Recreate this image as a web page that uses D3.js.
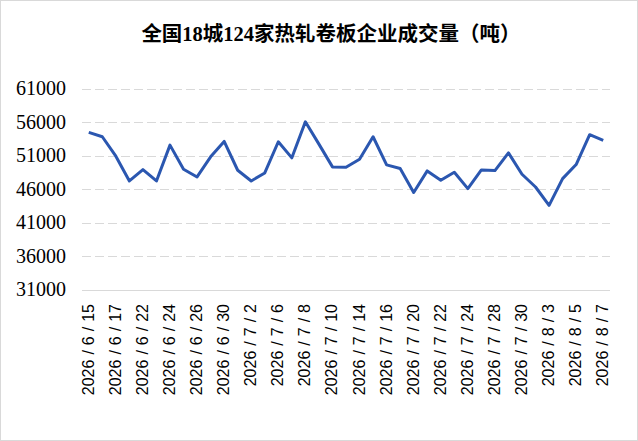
<!DOCTYPE html>
<html>
<head>
<meta charset="utf-8">
<script src="https://cdn.jsdelivr.net/npm/d3@7"></script>
<style>
  body { margin: 0; background: #fff; }
  svg { display: block; }
</style>
</head>
<body>
<script>
const title = '全国18城124家热轧卷板企业成交量（吨）';

const dates = [
  '2026/6/15', '2026/6/16', '2026/6/17', '2026/6/18', '2026/6/22', '2026/6/23', '2026/6/24',
  '2026/6/25', '2026/6/26', '2026/6/29', '2026/6/30', '2026/7/1', '2026/7/2', '2026/7/3',
  '2026/7/6', '2026/7/7', '2026/7/8', '2026/7/9', '2026/7/10', '2026/7/13', '2026/7/14',
  '2026/7/15', '2026/7/16', '2026/7/17', '2026/7/20', '2026/7/21', '2026/7/22', '2026/7/23',
  '2026/7/24', '2026/7/27', '2026/7/28', '2026/7/29', '2026/7/30', '2026/7/31', '2026/8/3',
  '2026/8/4', '2026/8/5', '2026/8/6', '2026/8/7'
];

const volumes = [
  54450, 53800, 50900, 47200, 48900, 47200, 52550,
  48950, 47800, 50800, 53100, 48800, 47200, 48400,
  53050, 50650, 56030, 52700, 49300, 49250, 50450,
  53800, 49600, 49050, 45470, 48700, 47300, 48500,
  46050, 48850, 48750, 51400, 48200, 46300, 43550,
  47550, 49650, 54100, 53250
];

const yTicks = [31000, 36000, 41000, 46000, 51000, 56000, 61000];

const width = 638;
const height = 441;
const margin = { top: 88, right: 28, bottom: 152, left: 82 };

const svg = d3.select('body').append('svg')
  .attr('width', width)
  .attr('height', height);

svg.append('rect')
  .attr('x', 0.5).attr('y', 0.5)
  .attr('width', width - 1).attr('height', height - 1)
  .attr('fill', '#fff')
  .attr('stroke', '#d9d9d9');

const x = d3.scaleBand()
  .domain(dates)
  .range([margin.left, width - margin.right]);

const y = d3.scaleLinear()
  .domain([31000, 61000])
  .range([height - margin.bottom + 0.5, margin.top + 0.5]);

// gridlines
svg.append('g')
  .selectAll('line')
  .data(yTicks)
  .join('line')
  .attr('x1', margin.left)
  .attr('x2', width - margin.right)
  .attr('y1', d => Math.round(y(d)) + 0.5)
  .attr('y2', d => Math.round(y(d)) + 0.5)
  .attr('stroke', '#d9d9d9')
  .attr('stroke-width', 1)
  .attr('stroke-dasharray', d => d === 31000 ? null : '9,4');

// y axis labels
const yAxis = d3.axisLeft(y)
  .tickValues(yTicks)
  .tickFormat(d3.format('d'))
  .tickSize(0)
  .tickPadding(16);
svg.append('g')
  .attr('transform', `translate(${margin.left},0)`)
  .call(yAxis)
  .call(g => g.select('.domain').remove())
  .selectAll('text')
  .attr('font-family', '"Liberation Serif", "Times New Roman", serif')
  .attr('font-size', 20)
  .attr('fill', '#000');

// x axis labels
const xAxis = d3.axisBottom(x)
  .tickValues(dates.filter((d, i) => i % 2 === 0))
  .tickSize(0);
const xg = svg.append('g')
  .attr('transform', `translate(0,${height - margin.bottom})`)
  .call(xAxis);
xg.select('.domain').remove();
xg.selectAll('.tick text')
  .attr('font-family', '"Liberation Sans", Arial, sans-serif')
  .attr('font-size', 16)
  .attr('fill', '#000')
  .attr('transform', 'rotate(-90)')
  .attr('text-anchor', 'end')
  .attr('dominant-baseline', 'central')
  .attr('x', -15)
  .attr('y', -1)
  .attr('dy', null)
  .each(function (d) {
    const t = d3.select(this).text('');
    d.split('/').forEach((part, i) => {
      if (i > 0) t.append('tspan').attr('dx', 5).text('/');
      t.append('tspan').attr('dx', i > 0 ? 5 : 0).text(part);
    });
  });

// line
const line = d3.line()
  .x((d, i) => x(dates[i]) + x.bandwidth() / 2)
  .y(d => y(d));

svg.append('path')
  .datum(volumes)
  .attr('fill', 'none')
  .attr('stroke', '#2b57b0')
  .attr('stroke-width', 3)
  .attr('stroke-linejoin', 'round')
  .attr('d', line);

// title
svg.append('text')
  .attr('x', 331)
  .attr('y', 41)
  .attr('text-anchor', 'middle')
  .attr('font-family', '"Liberation Serif", "Noto Sans CJK SC", serif')
  .attr('font-weight', 'bold')
  .attr('font-size', 20.5)
  .attr('fill', '#000')
  .text(title);
</script>
</body>
</html>
